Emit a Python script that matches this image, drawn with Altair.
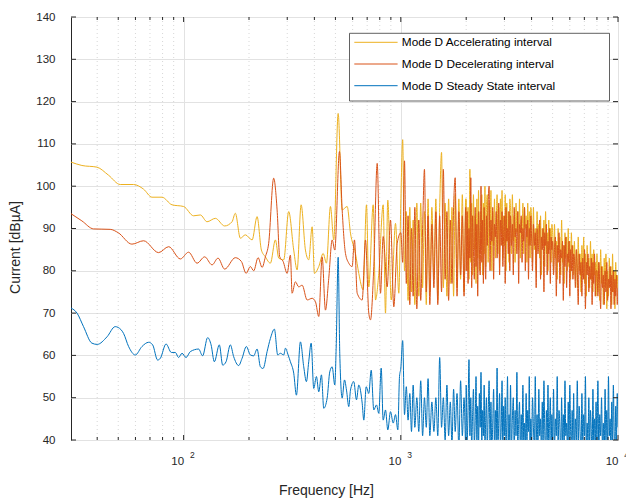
import altair as alt
import pandas as pd

# ---------------- data ----------------
SERIES = ["Mode D Accelerating interval", "Mode D Decelerating interval", "Mode D Steady State interval"]
COLORS = ["#EDB120", "#D95319", "#0072BD"]

# low / mid frequency part (individually read points)
ACC_LOW_F = [30.3, 34.0, 39.9, 45.1, 51.1, 58.8, 65.4, 71.5, 79.5, 88.4, 100, 111.2, 119.4, 128.2, 140,
             154.5, 167.1, 173, 182.5, 192.4, 206.7, 217.9, 228.1, 237.9, 250.9, 264.6, 274.1, 289, 304.7,
             321.3, 333.1, 347.5, 363.8, 376.7, 390.6, 400.3, 419, 439, 454.6, 474.3, 491.3, 514.7, 537,
             566.2, 586.5, 618.3, 640.5, 671, 694.9, 712.1, 746.1, 764.6, 791.8, 829.5, 850.1, 871.1, 903.3,
             945.4, 979]
ACC_LOW_V = [105.7, 104.9, 104.5, 102.6, 100.4, 100.4, 99.3, 97.4, 97.4, 95.6, 95.2, 93.0, 93.2, 91.6, 92.4,
             90.6, 91.6, 93.6, 87.7, 88.5, 87.3, 92.8, 84.9, 83.3, 81.8, 87.3, 83.0, 82.6, 94.0,
             84.9, 80.2, 95.6, 84.9, 82.6, 90.4, 79.4, 81.0, 84.1, 81.8, 95.2, 87.3, 117.2, 94.4,
             95.2, 88.9, 84.1, 79.4, 75.5, 95.6, 76.2, 95.6, 73.1, 79.4, 95.6, 70.0, 96.7, 73.1,
             91.2, 74.7]

DEC_LOW_F = [30.3, 34.0, 38.5, 45.9, 50, 57.8, 65.4, 76.7, 85.3, 96.6, 105.4, 115.3, 125, 135.2, 144, 154.5,
             173, 184.5, 193.9, 202.9, 210.2, 220.2, 229.8, 237.9, 246.4, 259.8, 269.4, 277, 287.2, 299.6,
             310.2, 315.8, 327.1, 338.8, 351.3, 370.5, 390.6, 404.5, 419, 434.3, 449.8, 465.8, 483, 496.5,
             521.9, 537, 556.2, 576, 597, 611.8, 629.7, 664, 687.6, 712.1, 725.1, 750.9, 778.5, 806.2,
             829.5, 865.6, 896.4, 928.4, 962.5]
DEC_LOW_V = [93.5, 91.8, 89.9, 89.8, 89.0, 86.3, 87.1, 84.3, 85.7, 82.8, 84.4, 81.8, 83.3, 81.4, 83.0, 80.4,
             83.1, 82.2, 79.4, 81.0, 80.0, 83.1, 80.8, 83.3, 86.5, 101.9, 94.4, 83.3, 82.2, 79.4,
             83.7, 74.7, 77.4, 76.2, 76.6, 73.1, 73.5, 72.7, 69.2, 83.3, 70.7, 78.2, 87.3, 84.9,
             108.2, 94.4, 84.1, 81.8, 81.0, 87.3, 74.7, 73.1, 87.3, 70.0, 68.4, 81.0, 105.4, 74.7,
             88.1, 76.2, 92.0, 71.5, 86.5]

SS_LOW_F = [30.3, 32.3, 34.6, 37.8, 40, 44.4, 48.4, 50, 52.9, 55.8, 59.9, 64.3, 69.0, 72.0, 75.9, 78.1,
            83.0, 87.8, 91.6, 94.8, 98.3, 102.6, 107.4, 117.2, 122.3, 129, 133.8, 138.5, 146, 151.3,
            156.8, 164.1, 170, 179.2, 185.8, 194.5, 202.9, 210.2, 217.9, 225.7, 232.2, 242.3, 250.9,
            261.8, 271.2, 279, 289, 294.3, 302.8, 310.2, 321.3, 330.6, 345, 357.3, 367.6, 376.7, 386.6,
            397.3, 408.8, 419, 431.1, 441.8, 458, 470.8, 483, 496.5, 503.9, 514.7, 523.5, 537, 550.4,
            562.2, 576, 586.5, 607.4, 625, 640.5, 664, 675.4, 692.8, 712.1, 730.5, 750.9, 772.7, 791.8,
            812.3, 829.5, 850.1, 871.1, 896.4, 922.6, 945.4, 968.7, 986.3]
SS_LOW_V = [71.2, 70.0, 66.8, 62.9, 62.6, 64.4, 66.8, 66.6, 65.2, 62.1, 60.1, 62.1, 63.1, 62.5, 58.9, 59.3,
            62.7, 60.7, 60.7, 59.5, 60.5, 59.5, 60.9, 61.5, 59.9, 64.2, 62.5, 58.5, 62.5, 57.7,
            58.5, 62.5, 59.7, 57.6, 59.3, 62.1, 60.1, 59.9, 61.5, 57.3, 56.9, 60.9, 64.0,
            66.2, 60.1, 60.5, 60.1, 61.7, 60.1, 58.5, 55.8, 50.6, 63.2, 57.3, 53.8, 58.5, 62.9,
            52.2, 55.0, 51.4, 55.4, 47.5, 49.9, 56.1, 57.3, 53.0, 61.7, 83.2, 60.5, 49.9, 54.2,
            51.8, 47.9, 51.8, 53.8, 49.5, 53.0, 48.7, 44.7, 52.6, 51.0, 56.5, 47.1, 48.3, 46.3,
            57.0, 44.7, 47.1, 42.4, 46.7, 44.0, 46.0, 42.4, 55.0]

# dense high-frequency part (shared frequency bins), one row per band
HF_F = [
    1000, 1020, 1040, 1060, 1080, 1100, 1120, 1140, 1160, 1185, 1210, 1235, 1260, 1285, 1310, 1335, 1360,
    1390, 1420, 1450, 1480, 1510, 1540, 1570, 1600, 1630, 1660, 1690, 1720, 1750, 1780, 1815, 1850, 1885,
    1920, 1955, 1990,
    2000, 2020, 2040, 2060, 2080, 2100, 2120, 2140, 2160, 2180, 2200, 2220, 2240, 2260, 2280, 2300, 2320,
    2340, 2360, 2380, 2400, 2420, 2440, 2460, 2480,
    2500, 2525, 2550, 2575, 2600, 2625, 2650, 2675, 2700, 2725, 2750, 2775, 2800, 2825, 2850, 2875, 2900,
    2925, 2950, 2975, 3000, 3025, 3050, 3075, 3100, 3125, 3150, 3175,
    3200, 3232, 3264, 3296, 3328, 3360, 3392, 3424, 3456, 3488, 3520, 3552, 3584, 3616, 3648, 3680, 3712,
    3744, 3776, 3808, 3840, 3872, 3904, 3936, 3968,
    4000, 4040, 4080, 4120, 4160, 4200, 4240, 4280, 4320, 4360, 4400, 4440, 4480, 4520, 4560, 4600, 4640,
    4680, 4720, 4760, 4800, 4840, 4880, 4920, 4960,
    5000, 5050, 5100, 5150, 5200, 5250, 5300, 5350, 5400, 5450, 5500, 5550, 5600, 5650, 5700, 5750, 5800,
    5850, 5900, 5950, 6000, 6050, 6100, 6150, 6200, 6250,
    6300, 6365, 6430, 6495, 6560, 6625, 6690, 6755, 6820, 6885, 6950, 7015, 7080, 7145, 7210, 7275, 7340,
    7405, 7470, 7535, 7600, 7665, 7730, 7795, 7860, 7925,
    8000, 8080, 8160, 8240, 8320, 8400, 8480, 8560, 8640, 8720, 8800, 8880, 8960, 9040, 9120, 9200, 9280,
    9360, 9440, 9520, 9600, 9680, 9760, 9840, 9920, 10000,
]

ACC_HF_V = [
    96, 111, 80, 94, 73, 95, 75, 92, 72, 96, 74, 96, 76, 94, 72, 97, 75,
    95, 78, 97, 73, 95, 108, 76, 96, 74, 97, 77, 95, 74, 98, 76, 97, 78,
    98, 75, 97,
    97, 80, 95, 78, 104, 82, 96, 79, 98, 85, 93, 77, 97, 83, 99, 80, 94,
    86, 98, 79, 96, 84, 100, 81, 95,
    98, 82, 96, 88, 99, 80, 94, 86, 97, 83, 91, 98, 84, 95, 81, 97, 89,
    99, 83, 93, 86, 98, 80, 96, 87, 94, 82, 97,
    95, 84, 98, 87, 93, 82, 96, 89, 94, 85, 97, 83, 92, 88, 96, 84, 95,
    90, 93, 82, 96, 86, 94, 83, 95,
    92, 82, 95, 85, 90, 80, 94, 86, 91, 83, 93, 79, 90, 86, 92, 81, 94,
    84, 89, 80, 92, 85, 90, 82, 91,
    89, 80, 91, 83, 87, 78, 90, 84, 88, 79, 92, 82, 86, 77, 89, 83, 88,
    80, 90, 81, 87, 78, 89, 84, 86, 79,
    87, 78, 85, 76, 88, 80, 84, 75, 86, 79, 88, 77, 84, 74, 86, 80, 83,
    76, 87, 78, 84, 75, 85, 79, 82, 74,
    84, 75, 82, 73, 85, 77, 81, 72, 83, 76, 84, 71, 80, 74, 83, 77, 81,
    72, 84, 75, 80, 71, 82, 76, 79, 74,
]

DEC_HF_V = [
    89, 82, 106, 77, 93, 72, 90, 74, 95, 71, 92, 73, 90, 104, 75, 93, 72,
    91, 76, 94, 72, 93, 75, 104, 78, 94, 73, 92, 77, 95, 102, 74, 94, 79,
    93, 74, 95,
    80, 94, 77, 90, 83, 102, 76, 93, 85, 78, 95, 81, 91, 74, 94, 86, 79,
    100, 82, 92, 77, 95, 84, 78, 93,
    86, 96, 100, 80, 92, 87, 95, 78, 91, 88, 94, 83, 90, 96, 79, 92, 86,
    94, 81, 89, 93, 77, 95, 87, 90, 84, 94, 80,
    93, 86, 91, 79, 95, 88, 90, 84, 94, 77, 91, 89, 93, 82, 90, 87, 95,
    80, 91, 88, 92, 78, 90, 86, 93,
    88, 80, 91, 86, 89, 76, 90, 84, 87, 92, 78, 88, 85, 90, 75, 89, 86,
    91, 79, 87, 84, 90, 77, 88, 85,
    87, 79, 85, 88, 74, 86, 82, 89, 77, 85, 83, 87, 73, 86, 81, 88, 76,
    84, 82, 87, 74, 85, 80, 86, 78, 84,
    83, 76, 85, 80, 72, 84, 79, 82, 74, 83, 78, 85, 71, 82, 79, 84, 75,
    81, 78, 83, 72, 82, 77, 84, 74, 80,
    80, 74, 82, 77, 71, 81, 76, 79, 72, 80, 75, 82, 73, 78, 76, 81, 71,
    79, 75, 80, 72, 78, 74, 79, 72, 76,
]

SS_HF_V = [
    57, 63.5, 46, 52.6, 44.7, 51, 42, 53, 43, 50, 42, 54, 41, 50, 43, 54.5, 41,
    49, 42, 50, 41, 59.5, 43, 50, 40, 53, 41, 49, 39, 52, 42, 51, 38, 54,
    41, 50, 39,
    53, 40, 47, 59, 41, 50, 38, 46, 52, 39, 44, 55, 40, 48, 38, 51, 43,
    56, 39, 47, 41, 53, 38, 45, 50,
    38, 46, 54, 39, 49, 37, 44, 52, 38, 47, 40, 57, 37, 45, 51, 39, 43,
    54, 36, 48, 41, 50, 38, 44, 55, 37, 46, 40,
    53, 38, 45, 50, 37, 47, 41, 56, 38, 44, 49, 36, 46, 39, 53, 40, 44,
    37, 51, 39, 47, 42, 55, 37, 45,
    38, 50, 43, 37, 55, 40, 46, 38, 52, 41, 45, 36, 49, 39, 54, 42, 37,
    47, 40, 53, 38, 44, 50, 37, 46,
    39, 52, 37, 45, 41, 55, 38, 47, 43, 36, 50, 40, 46, 38, 54, 41, 44,
    37, 49, 39, 53, 42, 38, 47, 40, 51,
    37, 45, 40, 54, 38, 48, 42, 36, 51, 39, 46, 41, 55, 37, 44, 39, 50,
    38, 47, 42, 36, 52, 40, 45, 38, 49,
    39, 54, 37, 46, 41, 50, 38, 44, 36, 52, 40, 47, 38, 55, 41, 45, 37,
    49, 39, 53, 42, 36, 48, 40, 51, 43,
]

# axis ticks
Y_TICKS = [40, 50, 60, 70, 80, 90, 100, 110, 120, 130, 140]
X_MAJOR = [100, 1000, 10000]
X_EXP = ["2", "3", "4"]
X_MINOR = [40, 50, 60, 70, 80, 90, 200, 300, 400, 500, 600, 700, 800, 900,
           2000, 3000, 4000, 5000, 6000, 7000, 8000, 9000]

# ---------------- chart ----------------
W, H = 547, 423
INK = "#262626"
FONT = "Liberation Sans"
GRID = "#e2e2e2"

xscale = alt.Scale(type="log", domain=[30.3, 10000], nice=False)
yscale = alt.Scale(domain=[40, 140], nice=False, zero=False)


def series_frame(low_f, low_v, hf_v):
    assert len(low_f) == len(low_v), (len(low_f), len(low_v))
    assert len(HF_F) == len(hf_v), (len(HF_F), len(hf_v))
    return pd.DataFrame({"freq": list(low_f) + list(HF_F), "value": list(low_v) + list(hf_v)})


frames = [series_frame(ACC_LOW_F, ACC_LOW_V, ACC_HF_V),
          series_frame(DEC_LOW_F, DEC_LOW_V, DEC_HF_V),
          series_frame(SS_LOW_F, SS_LOW_V, SS_HF_V)]

x_axis = alt.Axis(values=X_MAJOR, labelExpr="'10'", labelAlign="right", labelBaseline="middle",
                  labelPadding=21, labelFontSize=11.5, labelColor=INK, labelFont=FONT, labelFlush=False,
                  ticks=False, domain=False, grid=True, gridColor=GRID, gridWidth=1,
                  title="Frequency [Hz]", titleFont=FONT, titleFontSize=14, titleFontWeight="normal",
                  titleColor=INK, titleX=255, titleY=50, titleBaseline="middle", titleAlign="center")
y_axis = alt.Axis(values=Y_TICKS, labelPadding=16, labelFontSize=11.5, labelColor=INK, labelFont=FONT,
                  ticks=False, domain=False, grid=True, gridColor=GRID, gridWidth=1,
                  title="Current [dBµA]", titleFont=FONT, titleFontSize=14, titleFontWeight="normal",
                  titleColor=INK, titleX=-56, titleY=230, titleAngle=270, titleBaseline="middle",
                  titleAlign="center")


def X(field="freq:Q"):
    return alt.X(field, scale=xscale, axis=x_axis, title="Frequency [Hz]")


def Y(field="value:Q"):
    return alt.Y(field, scale=yscale, axis=y_axis, title="Current [dBµA]")


minor_df = pd.DataFrame({"freq": X_MINOR})
major_df = pd.DataFrame({"freq": X_MAJOR, "exp": X_EXP})
ytick_df = pd.DataFrame({"value": Y_TICKS})

layers = []
# dotted minor grid
layers.append(alt.Chart(minor_df).mark_rule(color="#cdcdcd", strokeDash=[1, 3], strokeWidth=0.8).encode(
    x=X(), y=alt.value(0), y2=alt.value(H)))

for i, df in enumerate(frames):
    layers.append(alt.Chart(df).mark_line(color=COLORS[i], strokeWidth=1.0, clip=True,
                                          interpolate="monotone").encode(x=X(), y=Y()))

# inward ticks (MATLAB style box)
layers.append(alt.Chart(ytick_df).mark_rule(color=INK).encode(y=Y(), x=alt.value(0), x2=alt.value(5)))
layers.append(alt.Chart(ytick_df).mark_rule(color=INK).encode(y=Y(), x=alt.value(W - 5), x2=alt.value(W)))
layers.append(alt.Chart(major_df).mark_rule(color=INK).encode(x=X(), y=alt.value(H - 5), y2=alt.value(H)))
layers.append(alt.Chart(major_df).mark_rule(color=INK).encode(x=X(), y=alt.value(0), y2=alt.value(5)))
layers.append(alt.Chart(minor_df).mark_rule(color=INK).encode(x=X(), y=alt.value(H - 3), y2=alt.value(H)))
layers.append(alt.Chart(minor_df).mark_rule(color=INK).encode(x=X(), y=alt.value(0), y2=alt.value(3)))

# exponent of the 10^n labels
layers.append(alt.Chart(major_df).mark_text(dx=8.7, fontSize=8.5, font=FONT, color=INK,
                                            align="center", baseline="middle").encode(
    x=X(), y=alt.value(H + 15), text="exp:N"))

# legend (MATLAB style box)
leg_df = pd.DataFrame({"name": SERIES, "color": COLORS, "row": [0, 1, 2]})
layers.append(alt.Chart(pd.DataFrame({"k": [0]})).mark_rect(fill="white", stroke="#3a3a3a",
                                                            strokeWidth=0.8).encode(
    x=alt.value(278.5), x2=alt.value(538.5), y=alt.value(16.3), y2=alt.value(84)))
layers.append(alt.Chart(leg_df).transform_calculate(py="25.3 + datum.row * 21.7").mark_rule(
    strokeWidth=1).encode(
    x=alt.value(283.3), x2=alt.value(326.6),
    y=alt.Y("py:Q", scale=None, axis=None),
    color=alt.Color("color:N", scale=None, legend=None)))
layers.append(alt.Chart(leg_df).transform_calculate(py="25.3 + datum.row * 21.7").mark_text(
    align="left", baseline="middle", fontSize=11.8, font=FONT, color="black").encode(
    x=alt.value(330.8), y=alt.Y("py:Q", scale=None, axis=None), text="name:N"))

chart = alt.layer(*layers).properties(
    width=W, height=H,
    padding={"left": 71, "top": 17, "right": 8, "bottom": 60},
    autosize=alt.AutoSizeParams(type="none"),
    background="white",
).configure_view(stroke=INK, strokeWidth=1)

chart.save("out.html", embed_options={"renderer": "svg", "actions": False})
